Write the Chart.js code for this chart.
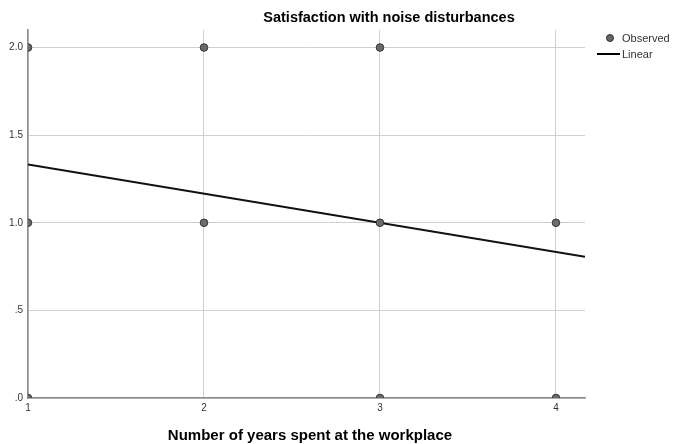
<!DOCTYPE html>
<html><head><meta charset="utf-8">
<script src="https://cdn.jsdelivr.net/npm/chart.js@4/dist/chart.umd.min.js"></script>
<style>html,body{margin:0;padding:0;background:#fff}#w{width:675px;height:444px}</style>
</head><body><div id="w"><canvas id="c" width="675" height="444"></canvas></div>
<script>
const chartTitle = 'Satisfaction with noise disturbances';
const xTitle = 'Number of years spent at the workplace';
const observedX = [1, 2, 3, 1, 2, 3, 4, 1, 3, 4];
const observedY = [2, 2, 2, 1, 1, 1, 1, 0, 0, 0];
const fitX = [1, 4.165];
const fitY = [1.333, 0.806];
const xTicks = [1, 2, 3, 4];
const yTicks = [0, 0.5, 1, 1.5, 2];
const yTickLabels = ['.0', '.5', '1.0', '1.5', '2.0'];
const legendLabels = ['Observed', 'Linear'];

const FONT = 'Arial, "Liberation Sans", sans-serif';

const decor = {
  id: 'decor',
  afterDraw(chart) {
    const ctx = chart.ctx, a = chart.chartArea;
    ctx.save();
    ctx.fillStyle = '#000';
    ctx.font = 'bold 14.5px ' + FONT;
    ctx.textAlign = 'center';
    ctx.textBaseline = 'middle';
    ctx.fillText(chartTitle, 389, 18);
    ctx.font = 'bold 15px ' + FONT;
    ctx.fillText(xTitle, 310, 436);
    // legend
    ctx.font = '11px ' + FONT;
    ctx.textAlign = 'left';
    ctx.fillStyle = '#666';
    ctx.strokeStyle = '#333';
    ctx.lineWidth = 1;
    ctx.beginPath(); ctx.arc(610, 38, 3.5, 0, Math.PI * 2); ctx.fill(); ctx.stroke();
    ctx.fillStyle = '#333';
    ctx.fillText(legendLabels[0], 622, 39);
    ctx.strokeStyle = '#000'; ctx.lineWidth = 2;
    ctx.beginPath(); ctx.moveTo(597, 54); ctx.lineTo(620, 54); ctx.stroke();
    ctx.fillText(legendLabels[1], 622, 55);
    ctx.restore();
  }
};

new Chart(document.getElementById('c'), {
  type: 'scatter',
  data: {
    datasets: [
      {
        label: legendLabels[1],
        type: 'line',
        data: fitX.map((x, i) => ({x, y: fitY[i]})),
        borderColor: '#111',
        borderWidth: 2,
        pointRadius: 0,
        fill: false,
        order: 1
      },
      {
        label: legendLabels[0],
        data: observedX.map((x, i) => ({x, y: observedY[i]})),
        backgroundColor: '#6b6b6b',
        borderColor: '#333',
        borderWidth: 1,
        pointRadius: 3.8,
        clip: 0,
        order: 0
      }
    ]
  },
  options: {
    responsive: false,
    animation: false,
    devicePixelRatio: 1,
    layout: {padding: {top: 30, right: 90, left: 0, bottom: 0}},
    plugins: {legend: {display: false}, title: {display: false}, tooltip: {enabled: false}},
    scales: {
      x: {
        type: 'linear',
        min: 1, max: 4.165,
        afterBuildTicks: s => { s.ticks = xTicks.map(v => ({value: v})); },
        afterFit: s => { s.height = 46; },
        ticks: {color: '#333', font: {size: 10, family: FONT}, padding: 4,
                callback: v => String(v)},
        grid: {color: '#d0d0d0', lineWidth: 1, tickLength: 0},
        border: {color: '#8c8c8c', width: 1.5}
      },
      y: {
        type: 'linear',
        min: 0, max: 2.1,
        afterBuildTicks: s => { s.ticks = yTicks.map(v => ({value: v})); },
        afterFit: s => { s.width = 28; },
        ticks: {color: '#333', font: {size: 10, family: FONT}, padding: 5,
                callback: v => yTickLabels[yTicks.indexOf(v)]},
        grid: {color: '#d0d0d0', lineWidth: 1, tickLength: 0},
        border: {color: '#8c8c8c', width: 1.5}
      }
    }
  },
  plugins: [decor]
});
</script></body></html>
